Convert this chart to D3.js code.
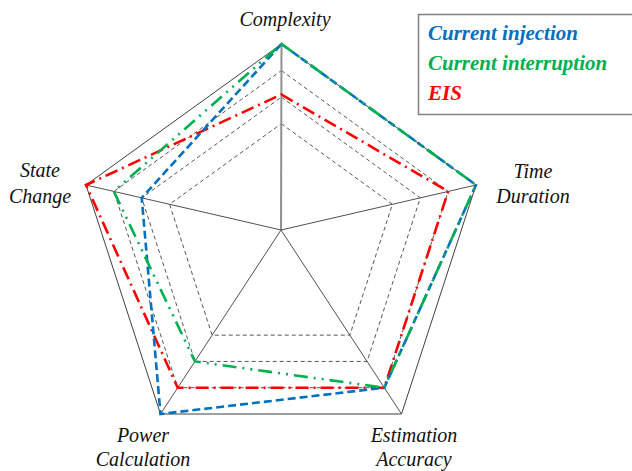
<!DOCTYPE html>
<html><head><meta charset="utf-8"><script src="https://cdn.jsdelivr.net/npm/d3@7"></script></head>
<body style="margin:0">
<svg id="chart" width="632" height="471" style="display:block"></svg>
<script>
// ---- data ----
const axes = ["Complexity", "Time Duration", "Estimation Accuracy", "Power Calculation", "State Change"];
const axisLabelLines = [["Complexity"], ["Time", "Duration"], ["Estimation", "Accuracy"], ["Power", "Calculation"], ["State", "Change"]];
const seriesNames = ["Current injection", "Current interruption", "EIS"];
const currentInjection = [7, 7, 6, 7, 5];
const currentInterruption = [7, 7, 6, 5, 6];
const eis = [5.1, 6, 6, 6, 7];
const gridLevels = [4, 5, 6, 7];
const maxValue = 7;

// ---- layout ----
const FONT = '"Liberation Serif", Tinos, "Times New Roman", Times, serif';
const svg = d3.select("#chart");
const cx = 281, cy = 230;
// axis end vectors (outer pentagon vertices relative to centre)
const axisVec = [[0.5, -186], [195, -45], [120.5, 184], [-120.5, 184], [-195, -45]];
const r = d3.scaleLinear().domain([0, maxValue]).range([0, 1]);
const pt = (i, v) => [cx + axisVec[i][0] * r(v), cy + axisVec[i][1] * r(v)];
const line = d3.line().curve(d3.curveLinearClosed);

// grid
gridLevels.forEach(lv => {
  svg.append("path")
    .attr("d", line(axes.map((a, i) => pt(i, lv))))
    .attr("fill", "none")
    .attr("stroke", lv === maxValue ? "#404040" : "#555")
    .attr("stroke-width", 1)
    .attr("stroke-dasharray", lv === maxValue ? null : "4,3");
});
// spokes
axes.forEach((a, i) => {
  const p = pt(i, maxValue);
  svg.append("line")
    .attr("x1", cx).attr("y1", cy).attr("x2", p[0]).attr("y2", p[1])
    .attr("stroke", i === 0 ? "#909090" : "#505050")
    .attr("stroke-width", i === 0 ? 2 : 1);
});

// series
const series = [
  { name: seriesNames[2], values: eis, color: "#FF0000", dash: "13,5,2,5" },
  { name: seriesNames[0], values: currentInjection, color: "#0070C0", dash: "8,4" },
  { name: seriesNames[1], values: currentInterruption, color: "#00B050", dash: "14,6,2,6,2,6" }
];
series.forEach(s => {
  svg.append("path")
    .attr("d", line(s.values.map((v, i) => pt(i, v))))
    .attr("fill", "none")
    .attr("stroke", s.color)
    .attr("stroke-width", 2.6)
    .attr("stroke-dasharray", s.dash)
    .attr("stroke-linejoin", "miter");
});

// axis labels
const labelPos = [[285, [26]], [533, [178, 203]], [414, [442, 466]], [143, [442, 466]], [40, [177, 203]]];
axisLabelLines.forEach((lines, i) => {
  lines.forEach((t, j) => {
    svg.append("text")
      .attr("x", labelPos[i][0]).attr("y", labelPos[i][1][j])
      .attr("text-anchor", "middle")
      .attr("font-family", FONT)
      .style("font-family", FONT)
      .style("font-style", "italic")
      .style("font-size", "20px")
      .attr("fill", "#111")
      .text(t);
  });
});

// legend
svg.append("rect")
  .attr("x", 418.5).attr("y", 14.5).attr("width", 230).attr("height", 100)
  .attr("fill", "#fff").attr("stroke", "#808080").attr("stroke-width", 1.5);
const legendColors = ["#0070C0", "#00B050", "#FF0000"];
seriesNames.forEach((n, k) => {
  svg.append("text")
    .attr("x", 428).attr("y", 40 + k * 30)
    .attr("font-family", FONT)
    .style("font-family", FONT)
    .style("font-style", "italic")
    .style("font-weight", "bold")
    .style("font-size", "21px")
    .attr("fill", legendColors[k])
    .text(n);
});
</script>
</body>
</html>
